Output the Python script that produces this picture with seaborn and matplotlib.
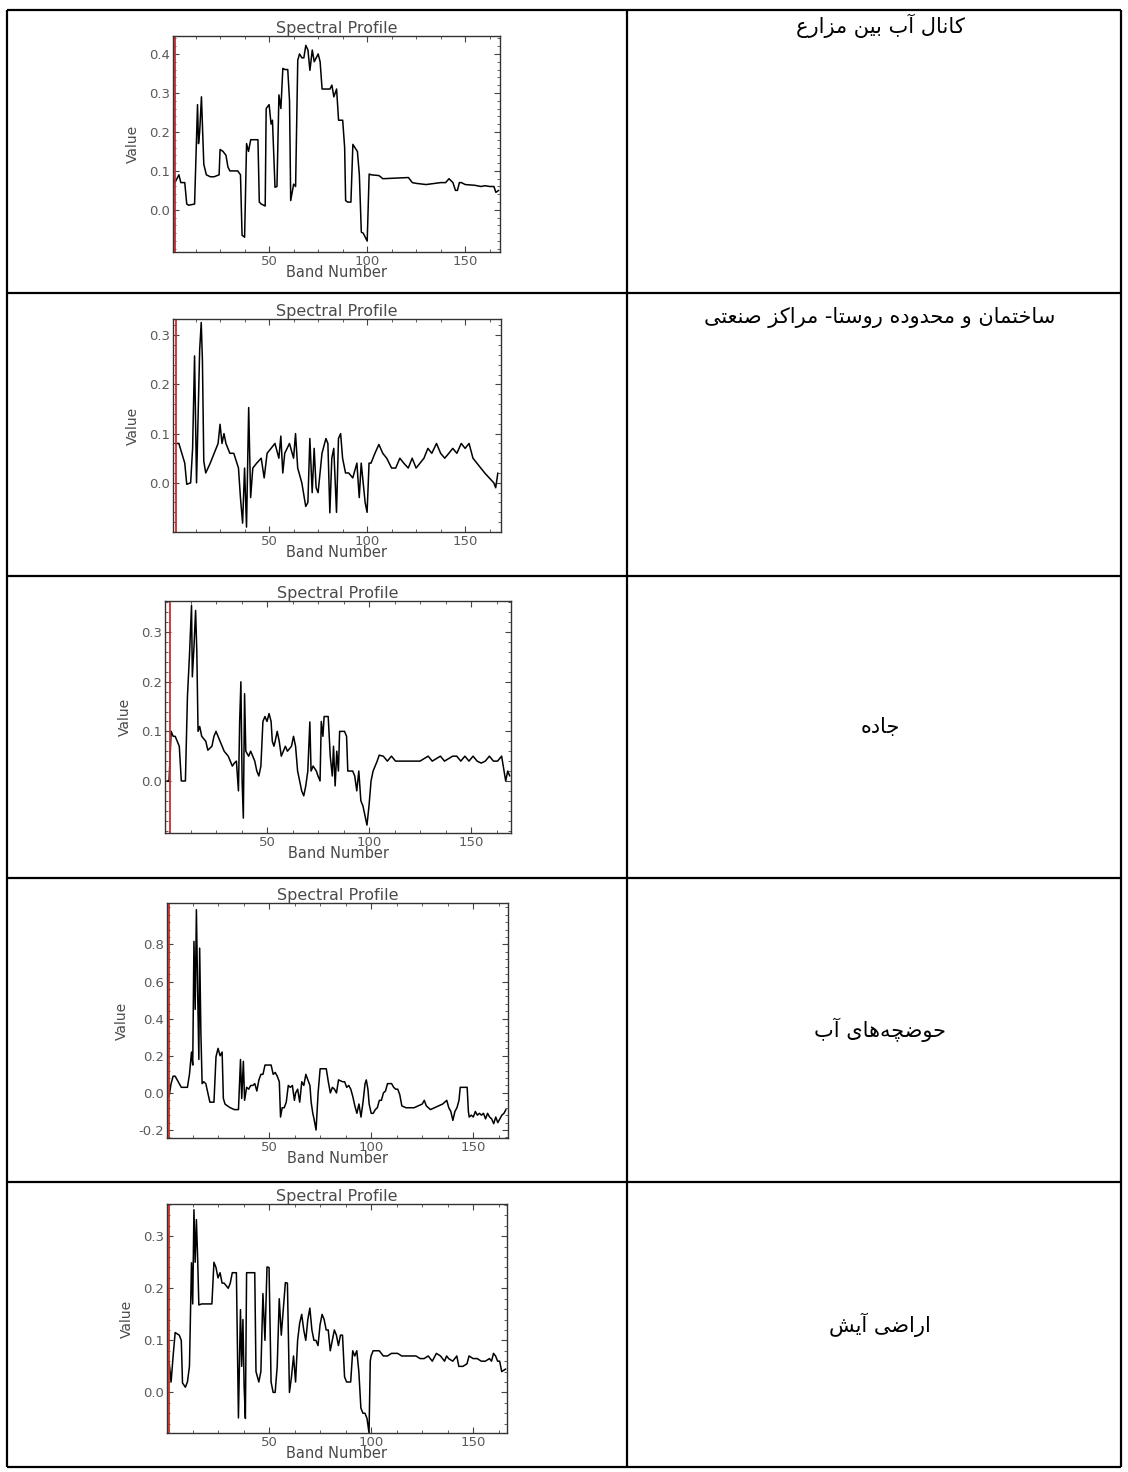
import pandas as pd
import matplotlib.pyplot as plt
import seaborn as sns
from matplotlib.ticker import MultipleLocator, AutoMinorLocator, FormatStrFormatter

# --- data (band number -> value) ---
band1 = [1, 2, 4, 5, 7, 8, 9, 12, 12.5, 13.5, 14, 14.6, 15.5, 16.7, 18, 20, 22, 24.5,
         25, 26.5, 28, 29, 30, 34, 35.4, 36.2, 37.5, 38.5, 39.5, 40.6, 42, 44.3, 45, 46,
         48, 48.5, 50, 51, 51.7, 53, 54, 55, 56, 57, 58, 59.5, 60.4, 61, 62.5, 63.5, 64.6,
         65.5, 66.7, 67.7, 68.7, 69.8, 70.8, 72, 73, 74, 75, 76, 77, 78, 80, 81, 82, 83,
         84.4, 85.4, 86, 87.5, 88.5, 89, 90, 91.7, 92.7, 93.7, 95, 96, 97, 98, 99, 100,
         101, 102, 106, 108, 121, 123, 125, 130, 137.5, 140, 141.7, 143.7, 145, 146, 147,
         148, 150, 155, 158, 160, 162.5, 164.6, 165.6, 167]
value1 = [0.087, 0.07, 0.09, 0.07, 0.07, 0.015, 0.012, 0.015, 0.10, 0.27, 0.17, 0.20, 0.29,
          0.117, 0.09, 0.085, 0.085, 0.09, 0.155, 0.15, 0.14, 0.11, 0.10, 0.10, 0.09, -0.065,
          -0.07, 0.17, 0.15, 0.18, 0.18, 0.18, 0.02, 0.015, 0.01, 0.26, 0.27, 0.22, 0.23,
          0.058, 0.06, 0.295, 0.26, 0.363, 0.36, 0.36, 0.28, 0.024, 0.066, 0.06, 0.384, 0.40,
          0.39, 0.39, 0.422, 0.41, 0.358, 0.41, 0.38, 0.39, 0.40, 0.38, 0.31, 0.31, 0.31,
          0.31, 0.32, 0.29, 0.31, 0.23, 0.23, 0.23, 0.16, 0.024, 0.02, 0.02, 0.168, 0.16,
          0.15, 0.09, -0.057, -0.06, -0.07, -0.08, 0.092, 0.09, 0.088, 0.08, 0.083, 0.07,
          0.068, 0.065, 0.07, 0.07, 0.08, 0.07, 0.05, 0.05, 0.07, 0.07, 0.065, 0.063, 0.06,
          0.062, 0.06, 0.06, 0.045, 0.05]

band2 = [2, 4, 7, 8, 10, 11, 12, 13, 14.6, 15.4, 16, 16.7, 17.7, 20, 22, 24, 25, 26, 27, 28,
         30, 32, 34.4, 35.4, 36.5, 37.5, 38.5, 39.6, 40.6, 41.7, 43.7, 46, 47.5, 49, 51, 53,
         55, 56, 57, 58, 60.4, 62.5, 63.5, 64.6, 66.7, 68.7, 69.8, 70.8, 72, 73, 74, 75, 77,
         79, 80, 81, 82, 83, 84.4, 85.4, 86.5, 87.5, 89, 90.6, 92.7, 94.8, 96, 97, 98, 99,
         100, 101, 102, 104, 106, 108, 110, 112.5, 114.6, 116.7, 118.7, 121, 123, 125, 127,
         129, 131, 133, 135.4, 137.5, 139.6, 141.7, 143.7, 145.8, 148, 150, 152, 154, 156,
         158, 160, 164.6, 165.6, 166.7]
value2 = [0.08, 0.08, 0.04, -0.003, 0.0, 0.07, 0.258, 0.0, 0.27, 0.326, 0.25, 0.044, 0.02,
          0.04, 0.06, 0.08, 0.119, 0.08, 0.10, 0.08, 0.06, 0.06, 0.03, -0.03, -0.082, 0.03,
          -0.09, 0.153, -0.03, 0.03, 0.04, 0.05, 0.01, 0.06, 0.07, 0.08, 0.05, 0.095, 0.02,
          0.06, 0.08, 0.05, 0.10, 0.03, 0.0, -0.048, -0.04, 0.09, -0.02, 0.07, -0.01, -0.02,
          0.06, 0.09, 0.08, -0.061, 0.05, 0.07, -0.06, 0.09, 0.10, 0.05, 0.02, 0.02, 0.01,
          0.04, -0.03, 0.04, 0.0, -0.04, -0.06, 0.04, 0.04, 0.06, 0.078, 0.06, 0.05, 0.03,
          0.03, 0.05, 0.04, 0.03, 0.05, 0.03, 0.04, 0.05, 0.07, 0.06, 0.08, 0.06, 0.05, 0.06,
          0.07, 0.06, 0.08, 0.07, 0.08, 0.05, 0.04, 0.03, 0.02, 0.0, -0.01, 0.02]

band3 = [1, 2, 3, 4, 5, 6, 7, 8, 10, 11, 12, 13, 13.4, 14.2, 15, 15.6, 16.2, 17, 18, 20, 21,
         23, 24, 25, 26, 27, 28, 29, 31, 32, 33, 34, 35, 36, 36.6, 37.2, 37.8, 38.4, 39, 39.6,
         41, 42, 43, 44, 45, 46, 47, 48, 49, 50, 51, 52, 52.6, 53.4, 54, 55, 56, 57, 58, 59,
         60, 62, 63, 64, 65, 66, 67, 68, 69, 70, 71, 71.6, 72.6, 74.2, 75, 76, 76.6, 77.4, 78,
         80, 81, 82, 82.6, 83.4, 84.2, 85, 85.6, 87, 88, 89, 89.6, 91, 92, 93, 94, 95, 96, 97,
         98, 99, 100, 101, 102, 103, 104, 105, 107, 109, 111, 113, 115, 119, 125, 129, 131,
         135, 137, 141, 143, 145, 147, 149, 151, 153, 155, 157, 159, 161, 163, 165, 167, 168,
         169]
value3 = [0.0, 0.0, 0.10, 0.09, 0.09, 0.08, 0.07, 0.0, 0.0, 0.17, 0.254, 0.354, 0.21, 0.27,
          0.344, 0.26, 0.10, 0.11, 0.09, 0.08, 0.062, 0.07, 0.09, 0.10, 0.09, 0.08, 0.07,
          0.06, 0.05, 0.04, 0.03, 0.036, 0.04, -0.02, 0.12, 0.20, 0.0, -0.075, 0.176, 0.06,
          0.05, 0.06, 0.05, 0.04, 0.02, 0.01, 0.03, 0.12, 0.13, 0.12, 0.136, 0.12, 0.08, 0.07,
          0.08, 0.10, 0.08, 0.05, 0.06, 0.07, 0.06, 0.07, 0.09, 0.07, 0.02, 0.0, -0.02, -0.03,
          -0.01, 0.02, 0.119, 0.02, 0.03, 0.02, 0.01, 0.0, 0.12, 0.09, 0.13, 0.13, 0.05, 0.01,
          0.07, -0.01, 0.06, 0.02, 0.10, 0.10, 0.10, 0.09, 0.02, 0.02, 0.02, 0.01, -0.02, 0.02,
          -0.04, -0.05, -0.07, -0.089, -0.05, 0.0, 0.02, 0.03, 0.04, 0.052, 0.05, 0.04, 0.05,
          0.04, 0.04, 0.04, 0.04, 0.05, 0.04, 0.05, 0.04, 0.05, 0.05, 0.04, 0.05, 0.04, 0.05,
          0.04, 0.036, 0.04, 0.05, 0.04, 0.04, 0.05, 0.0, 0.02, 0.01]

band4 = [1, 2, 3, 4, 5, 6, 7, 10, 11, 12, 12.6, 13.2, 13.8, 14.4, 15, 15.6, 16, 16.6, 17.2,
         18, 19, 20, 21, 23, 24, 25, 26, 27, 27.6, 28.4, 29.6, 31, 33, 35, 36, 36.6, 37.4, 38,
         39, 40, 41, 42, 43, 44, 45, 46, 47, 48, 49, 51, 52, 53, 54, 55, 55.6, 56.4, 57.4,
         58.4, 59.4, 60.4, 61.4, 62.4, 63, 64, 65, 66, 67, 68, 69, 70, 70.6, 71.4, 72, 73, 74,
         75, 78, 79, 80, 81, 82, 83, 84, 86, 87, 88, 89, 90, 91, 92, 93, 94, 95, 96, 97, 97.6,
         98.4, 99, 100, 101, 102, 103, 104, 105, 106, 107, 108, 110, 111, 112, 113, 114, 115,
         117, 121, 123, 125, 126, 127, 129, 131, 133, 135, 137, 138, 139, 140, 141, 142, 143,
         143.6, 147, 147.6, 148, 149, 150, 151, 152, 153, 154, 155, 156, 157, 158, 159, 160,
         161, 162, 163, 164, 165, 166]
value4 = [-0.02, 0.05, 0.09, 0.09, 0.07, 0.05, 0.03, 0.03, 0.10, 0.22, 0.15, 0.816, 0.45,
          0.987, 0.55, 0.18, 0.78, 0.32, 0.05, 0.06, 0.05, 0.0, -0.05, -0.05, 0.195, 0.24,
          0.20, 0.22, -0.03, -0.06, -0.07, -0.08, -0.09, -0.09, 0.18, -0.03, 0.17, -0.04, 0.03,
          0.02, 0.04, 0.04, 0.05, 0.01, 0.07, 0.10, 0.10, 0.15, 0.15, 0.15, 0.10, 0.11, 0.09,
          0.06, -0.13, -0.08, -0.08, -0.05, 0.04, 0.03, 0.04, -0.04, 0.0, 0.02, -0.05, 0.06,
          0.04, 0.10, 0.07, 0.04, -0.05, -0.11, -0.14, -0.20, 0.0, 0.13, 0.13, 0.06, 0.0, 0.03,
          0.02, 0.0, 0.07, 0.06, 0.06, 0.03, 0.04, 0.02, -0.02, -0.07, -0.11, -0.06, -0.13,
          -0.05, 0.05, 0.07, 0.02, -0.06, -0.11, -0.11, -0.09, -0.08, -0.04, -0.04, 0.0, 0.01,
          0.05, 0.05, 0.03, 0.02, 0.02, -0.01, -0.07, -0.08, -0.08, -0.07, -0.06, -0.04, -0.07,
          -0.09, -0.08, -0.07, -0.06, -0.04, -0.08, -0.10, -0.148, -0.10, -0.08, -0.04, 0.03,
          0.03, -0.10, -0.13, -0.12, -0.13, -0.10, -0.12, -0.11, -0.12, -0.11, -0.14, -0.11,
          -0.13, -0.14, -0.166, -0.13, -0.16, -0.14, -0.12, -0.11, -0.09]

band5 = [1, 2, 3, 4, 6, 7, 7.6, 9, 10, 11, 12, 12.6, 13.2, 13.8, 14.4, 15, 15.6, 17, 22, 23,
         24, 25, 26, 27, 28, 30, 31, 32, 34, 35, 36, 36.6, 37.2, 37.8, 38.4, 39, 43, 43.6, 45,
         46, 47, 48, 49, 50, 51, 52, 53, 54, 55, 56, 57, 58, 59, 60, 61, 62, 63, 64, 65, 66,
         67, 68, 69, 70, 71, 72, 73, 74, 75, 76, 77, 78, 79, 80, 81, 82, 83, 84, 85, 86, 87,
         88, 90, 91, 92, 93, 94, 95, 96, 97, 98, 99, 99.6, 100, 101, 102, 104, 106, 108, 110,
         113, 115, 118, 120, 122, 124, 126, 128, 130, 132, 134, 136, 137, 138, 140, 142, 143,
         145, 147, 148, 150, 152, 154, 156, 158, 159, 160, 161, 162, 163, 164, 166]
value5 = [0.06, 0.02, 0.07, 0.115, 0.11, 0.10, 0.018, 0.01, 0.02, 0.05, 0.249, 0.17, 0.351,
          0.25, 0.332, 0.26, 0.168, 0.17, 0.17, 0.25, 0.24, 0.22, 0.23, 0.21, 0.21, 0.20, 0.21,
          0.23, 0.23, -0.049, 0.159, 0.05, 0.14, 0.01, -0.05, 0.23, 0.23, 0.04, 0.02, 0.04,
          0.19, 0.10, 0.241, 0.24, 0.02, 0.0, 0.0, 0.05, 0.18, 0.11, 0.16, 0.211, 0.21, 0.0,
          0.03, 0.07, 0.02, 0.10, 0.133, 0.15, 0.12, 0.10, 0.14, 0.162, 0.12, 0.10, 0.10, 0.09,
          0.13, 0.15, 0.14, 0.12, 0.12, 0.08, 0.10, 0.12, 0.11, 0.09, 0.11, 0.11, 0.03, 0.02,
          0.02, 0.08, 0.07, 0.08, 0.04, -0.03, -0.04, -0.04, -0.05, -0.078, 0.06, 0.07, 0.08,
          0.08, 0.08, 0.07, 0.07, 0.075, 0.075, 0.07, 0.07, 0.07, 0.07, 0.065, 0.065, 0.07,
          0.06, 0.075, 0.07, 0.06, 0.07, 0.065, 0.06, 0.07, 0.05, 0.05, 0.055, 0.07, 0.065,
          0.065, 0.06, 0.06, 0.065, 0.06, 0.075, 0.07, 0.06, 0.06, 0.04, 0.045]

labels = ["کانال آب بین مزارع",
          "ساختمان و محدوده روستا- مراکز صنعتی",
          "جاده",
          "حوضچه\u200cهای آب",
          "اراضی آیش"]
y_ticks = [[0, 0.1, 0.2, 0.3, 0.4], [0, 0.1, 0.2, 0.3], [0, 0.1, 0.2, 0.3],
           [-0.2, 0, 0.2, 0.4, 0.6, 0.8], [0, 0.1, 0.2, 0.3]]
x_ticks = [50, 100, 150]

# --- layout (pixels in the 1128 x 1472 page) ---
W, H = 1128, 1472
row_edges = [10, 293, 576, 878, 1182, 1467]
col_edges = [7, 627, 1121]
axes_px = [(173, 36, 500, 252), (173, 319, 501, 532), (165, 601, 511, 833),
           (167, 903, 508, 1138), (167, 1204, 507, 1433)]
xlims = [(1, 167.7), (1, 168.3), (0, 169.6), (0, 167), (0, 166.6)]
ylims = [(-0.108, 0.446), (-0.1, 0.333), (-0.105, 0.363), (-0.243, 1.023), (-0.078, 0.362)]
red_at = [1.8, 2.5, 2.6, 0.8, 1.2]
label_offset = [16, 25, None, None, None]   # px below row top; None = centred

# minimal Persian shaping (matplotlib has no complex text layout)
FORMS = {
    "ا": ("\uFE8D", "\uFE8E", None, None), "آ": ("\uFE81", "\uFE82", None, None),
    "ب": ("\uFE8F", "\uFE90", "\uFE91", "\uFE92"), "ت": ("\uFE95", "\uFE96", "\uFE97", "\uFE98"),
    "ج": ("\uFE9D", "\uFE9E", "\uFE9F", "\uFEA0"), "چ": ("\uFB7A", "\uFB7B", "\uFB7C", "\uFB7D"),
    "ح": ("\uFEA1", "\uFEA2", "\uFEA3", "\uFEA4"), "خ": ("\uFEA5", "\uFEA6", "\uFEA7", "\uFEA8"),
    "د": ("\uFEA9", "\uFEAA", None, None), "ر": ("\uFEAD", "\uFEAE", None, None),
    "ز": ("\uFEAF", "\uFEB0", None, None), "س": ("\uFEB1", "\uFEB2", "\uFEB3", "\uFEB4"),
    "ش": ("\uFEB5", "\uFEB6", "\uFEB7", "\uFEB8"), "ص": ("\uFEB9", "\uFEBA", "\uFEBB", "\uFEBC"),
    "ض": ("\uFEBD", "\uFEBE", "\uFEBF", "\uFEC0"), "ع": ("\uFEC9", "\uFECA", "\uFECB", "\uFECC"),
    "ک": ("\uFB8E", "\uFB8F", "\uFB90", "\uFB91"), "ل": ("\uFEDD", "\uFEDE", "\uFEDF", "\uFEE0"),
    "م": ("\uFEE1", "\uFEE2", "\uFEE3", "\uFEE4"), "ن": ("\uFEE5", "\uFEE6", "\uFEE7", "\uFEE8"),
    "ه": ("\uFEE9", "\uFEEA", "\uFEEB", "\uFEEC"), "و": ("\uFEED", "\uFEEE", None, None),
    "ی": ("\uFBFC", "\uFBFD", "\uFBFE", "\uFBFF"),
}


def shape_rtl(text):
    out = []
    for i, c in enumerate(text):
        if c == "\u200c":
            continue
        if c not in FORMS:
            out.append(c)
            continue
        prev = text[i - 1] if i > 0 else None
        nxt = text[i + 1] if i + 1 < len(text) else None
        iso, fin, ini, med = FORMS[c]
        join_prev = prev in FORMS and FORMS[prev][2] is not None
        join_next = ini is not None and nxt in FORMS
        if join_prev and join_next:
            out.append(med)
        elif join_prev:
            out.append(fin)
        elif join_next:
            out.append(ini)
        else:
            out.append(iso)
    return "".join(reversed(out))


def main():
    sns.set_style("ticks")
    plt.rcParams["font.family"] = ["DejaVu Sans"]

    fig = plt.figure(figsize=(W / 100, H / 100), dpi=100)
    fig.patch.set_facecolor("white")

    # table frame
    bg = fig.add_axes([0, 0, 1, 1])
    bg.set_xlim(0, W)
    bg.set_ylim(H, 0)
    bg.axis("off")
    bg.hlines(row_edges, col_edges[0], col_edges[-1], color="black", lw=1.6)
    bg.vlines(col_edges, row_edges[0], row_edges[-1], color="black", lw=1.6)

    series = [(band1, value1), (band2, value2), (band3, value3),
              (band4, value4), (band5, value5)]
    text_x = (col_edges[1] + col_edges[2]) / 2 + 6
    for i, (b, v) in enumerate(series):
        l, t, r, btm = axes_px[i]
        ax = fig.add_axes([l / W, 1 - btm / H, (r - l) / W, (btm - t) / H])
        df = pd.DataFrame({"band": b, "value": v})
        sns.lineplot(data=df, x="band", y="value", ax=ax, color="black",
                     linewidth=1.1, estimator=None, sort=False)
        ax.axvline(red_at[i], color="#d02a2a", lw=1.3)
        ax.set_xlim(*xlims[i])
        ax.set_ylim(*ylims[i])
        ax.set_xticks(x_ticks)
        ax.set_yticks(y_ticks[i])
        ax.xaxis.set_minor_locator(MultipleLocator(12.5))
        ax.yaxis.set_minor_locator(AutoMinorLocator(5))
        ax.yaxis.set_major_formatter(FormatStrFormatter("%.1f"))
        ax.tick_params(which="both", direction="in", top=True, right=True,
                       color="#444444", labelcolor="#5a5a5a", labelsize=9.5, pad=2)
        ax.tick_params(which="major", length=4, width=0.8)
        ax.tick_params(which="minor", length=2, width=0.6)
        for sp in ax.spines.values():
            sp.set_visible(True)
            sp.set_color("#333333")
            sp.set_linewidth(1.0)
        ax.set_title("Spectral Profile", fontsize=11.5, color="#4a4a4a", pad=2)
        ax.set_xlabel("Band Number", fontsize=10.5, color="#4a4a4a", labelpad=-2)
        ax.set_ylabel("Value", fontsize=10, color="#4a4a4a", labelpad=7)

        top, bottom = row_edges[i], row_edges[i + 1]
        ty = top + label_offset[i] if label_offset[i] else (top + bottom) / 2
        bg.text(text_x, ty, shape_rtl(labels[i]), ha="center", va="center",
                fontsize=15, color="black")

    fig.savefig("out.png", dpi=100, facecolor="white")


if __name__ == "__main__":
    main()
